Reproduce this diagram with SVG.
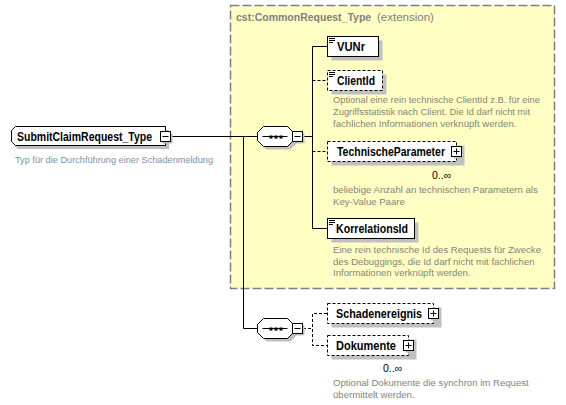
<svg xmlns="http://www.w3.org/2000/svg" width="566" height="405" viewBox="0 0 566 405">
<style>
.name{font-family:"Liberation Sans",Arial,sans-serif;font-weight:bold;font-size:12px;fill:#000}
.desc{font-family:"Liberation Sans",Arial,sans-serif;font-size:9.6px;fill:#858578}
.rdesc{font-family:"Liberation Sans",Arial,sans-serif;font-size:9.6px;fill:#7a93ad}
.occ{font-family:"Liberation Sans",Arial,sans-serif;font-size:10.5px;fill:#000}
.title{font-family:"Liberation Sans",Arial,sans-serif;font-size:11.5px;fill:#808080}
.ttl-b{font-family:"Liberation Sans",Arial,sans-serif;font-size:10.5px;font-weight:bold;fill:#808080}
.box{fill:#fff;stroke:#000;stroke-width:1}
.opt{fill:#fff;stroke:#000;stroke-width:1;stroke-dasharray:3,2}
.shadow{fill:#c0c0c0;stroke:none}
.line{fill:none;stroke:#000;stroke-width:1}
.dline{fill:none;stroke:#000;stroke-width:1;stroke-dasharray:3,2}
.btn{fill:#fff;stroke:#000;stroke-width:1}
.ico{stroke:#000;stroke-width:1}
</style>
<defs>
<g id="minus"><rect class="shadow" x="2" y="2" width="10" height="10"/><rect class="btn" x="0" y="0" width="10" height="10"/><line class="ico" x1="2" y1="5" x2="8" y2="5"/></g>
<g id="plus"><rect class="shadow" x="2" y="2" width="10" height="10"/><rect class="btn" x="0" y="0" width="10" height="10"/><line class="ico" x1="2" y1="5" x2="8" y2="5"/><line class="ico" x1="5" y1="2" x2="5" y2="8"/></g>
<g id="doc"><line class="ico" x1="0" y1="0.5" x2="6" y2="0.5"/><line class="ico" x1="0" y1="2.5" x2="6" y2="2.5"/><line class="ico" x1="0" y1="4.5" x2="4" y2="4.5"/></g>
<g id="seq"><polygon class="shadow" points="9,3 33,3 39,9 39,17 33,23 9,23 3,17 3,9"/><polygon class="box" points="6,0 30,0 36,6 36,14 30,20 6,20 0,14 0,6"/><line class="ico" x1="5" y1="10" x2="30" y2="10"/><rect x="12" y="9" width="3" height="3" fill="#000"/><rect x="17" y="9" width="3" height="3" fill="#000"/><rect x="22" y="9" width="3" height="3" fill="#000"/></g>
</defs>

<g id="extension">
<rect x="230.5" y="5.5" width="324" height="283" fill="#ffffc4" stroke="#808080" stroke-width="1.5" stroke-dasharray="9,3"/>
<text x="236" y="21" class="ttl-b">cst:CommonRequest_Type</text>
<text x="377" y="21" class="title">(extension)</text>
</g>

<g id="connectors">
<line class="line" x1="171" y1="136.5" x2="257" y2="136.5"/>
<polyline class="line" points="243.5,136.5 243.5,328.5 257,328.5"/>
<line class="line" x1="303" y1="136.5" x2="312.5" y2="136.5"/>
<polyline class="line" points="327,46.5 312.5,46.5 312.5,228.5 327,228.5"/>
<line class="dline" x1="312.5" y1="80.5" x2="327" y2="80.5"/>
<line class="dline" x1="312.5" y1="151.5" x2="327" y2="151.5"/>
<line class="dline" x1="303" y1="328.5" x2="312.5" y2="328.5"/>
<polyline class="dline" points="327,313.5 312.5,313.5 312.5,345.5 327,345.5"/>
</g>

<g id="root">
<path class="shadow" d="M18,130 H169 V149 H18 L15,146 V133 Z"/>
<path class="box" d="M15.5,126.5 H165.5 V145.5 H15.5 L11.5,141.5 V130.5 Z"/>
<text x="17" y="141" class="name" textLength="135" lengthAdjust="spacingAndGlyphs">SubmitClaimRequest_Type</text>
<use href="#minus" x="160.5" y="131.5"/>
<text x="15" y="163" class="rdesc" textLength="198" lengthAdjust="spacingAndGlyphs">Typ für die Durchführung einer Schadenmeldung</text>
</g>

<g id="seq1">
<use href="#seq" x="257.5" y="126.5"/>
<use href="#minus" x="292.5" y="131.5"/>
</g>

<g id="seq2">
<use href="#seq" x="257.5" y="318.5"/>
<use href="#minus" x="292.5" y="323.5"/>
</g>

<g id="VUNr">
<rect class="shadow" x="331.5" y="40.5" width="51" height="20"/>
<rect class="box" x="327.5" y="36.5" width="51" height="20"/>
<use href="#doc" x="329" y="38"/>
<text x="337" y="51" class="name" textLength="28" lengthAdjust="spacingAndGlyphs">VUNr</text>
</g>

<g id="ClientId">
<rect class="shadow" x="331.5" y="74.5" width="55" height="20"/>
<rect class="opt" x="327.5" y="70.5" width="55" height="20"/>
<use href="#doc" x="329" y="72"/>
<text x="337" y="85" class="name" textLength="38" lengthAdjust="spacingAndGlyphs">ClientId</text>
<text class="desc"><tspan x="333" y="103" textLength="207" lengthAdjust="spacingAndGlyphs">Optional eine rein technische ClientId z.B. für eine</tspan><tspan x="333" y="115" textLength="197" lengthAdjust="spacingAndGlyphs">Zugriffsstatistik nach Client. Die Id darf nicht mit</tspan><tspan x="333" y="126.5">fachlichen Informationen verknüpft werden.</tspan></text>
</g>

<g id="TechnischeParameter">
<rect class="shadow" x="331.5" y="145.5" width="133" height="20"/>
<rect class="opt" x="327.5" y="141.5" width="129" height="20"/>
<text x="337" y="156" class="name" textLength="108" lengthAdjust="spacingAndGlyphs">TechnischeParameter</text>
<use href="#plus" x="451.5" y="146.5"/>
<text x="432" y="179" class="occ">0..∞</text>
<text class="desc"><tspan x="333" y="193">beliebige Anzahl an technischen Parametern als</tspan><tspan x="333" y="204.5">Key-Value Paare</tspan></text>
</g>

<g id="KorrelationsId">
<rect class="shadow" x="331.5" y="222.5" width="87" height="20"/>
<rect class="box" x="327.5" y="218.5" width="87" height="20"/>
<use href="#doc" x="329" y="220"/>
<text x="336" y="233" class="name" textLength="72" lengthAdjust="spacingAndGlyphs">KorrelationsId</text>
<text class="desc"><tspan x="333" y="253">Eine rein technische Id des Requests für Zwecke</tspan><tspan x="333" y="264.5">des Debuggings, die Id darf nicht mit fachlichen</tspan><tspan x="333" y="276">Informationen verknüpft werden.</tspan></text>
</g>

<g id="Schadenereignis">
<rect class="shadow" x="331.5" y="307.5" width="110" height="20"/>
<rect class="opt" x="327.5" y="303.5" width="106" height="20"/>
<text x="336" y="318" class="name" textLength="86" lengthAdjust="spacingAndGlyphs">Schadenereignis</text>
<use href="#plus" x="428.5" y="308.5"/>
</g>

<g id="Dokumente">
<rect class="shadow" x="331.5" y="339.5" width="85" height="20"/>
<rect class="opt" x="327.5" y="335.5" width="81" height="20"/>
<text x="336" y="350" class="name" textLength="60" lengthAdjust="spacingAndGlyphs">Dokumente</text>
<use href="#plus" x="403.5" y="340.5"/>
<text x="383" y="372" class="occ">0..∞</text>
<text class="desc"><tspan x="333" y="386">Optional Dokumente die synchron im Request</tspan><tspan x="333" y="397.5">übermittelt werden.</tspan></text>
</g>
</svg>
